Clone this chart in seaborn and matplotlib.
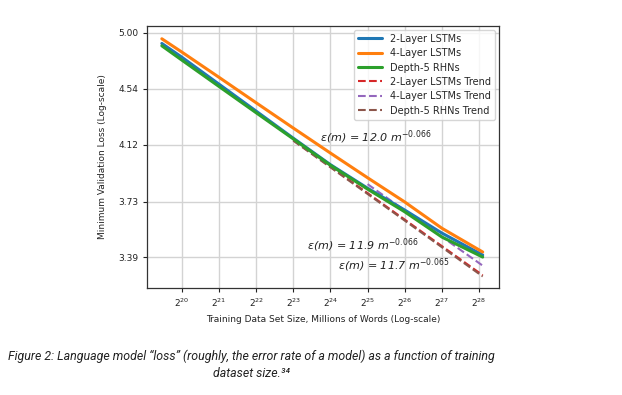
import numpy as np
import pandas as pd
import matplotlib
matplotlib.use("Agg")
import matplotlib.pyplot as plt
import seaborn as sns
from matplotlib.lines import Line2D

# ---- data ----
x_exp = [19.46, 20, 21, 22, 23, 24, 25, 26, 27, 28.1]          # log2 of training size
loss_2layer = [4.91, 4.794, 4.575, 4.366, 4.166, 3.979, 3.82, 3.678, 3.534, 3.402]
loss_4layer = [4.95, 4.837, 4.63, 4.43, 4.24, 4.06, 3.89, 3.73, 3.564, 3.42]
loss_rhn    = [4.89, 4.77, 4.557, 4.354, 4.161, 3.975, 3.814, 3.667, 3.51, 3.39]

trend_2layer_exp = [23.0, 28.1]
trend_2layer = [4.152, 3.285]
trend_4layer_exp = [25.0, 28.1]
trend_4layer = [3.847, 3.34]
trend_rhn_exp = [23.0, 28.1]
trend_rhn = [4.148, 3.278]

series_names = ["2-Layer LSTMs", "4-Layer LSTMs", "Depth-5 RHNs"]
trend_names = ["2-Layer LSTMs Trend", "4-Layer LSTMs Trend", "Depth-5 RHNs Trend"]

x_tick_exp = [20, 21, 22, 23, 24, 25, 26, 27, 28]
y_ticks = [5.00, 4.54, 4.12, 3.73, 3.39]

fit_labels = [r"ε(m) = 12.0 m$^{-0.066}$",
              r"ε(m) = 11.9 m$^{-0.066}$",
              r"ε(m) = 11.7 m$^{-0.065}$"]

caption = ("Figure 2: Language model \u201closs\u201d (roughly, the error rate of a model) as a function of training\n"
           "dataset size.\u00b3\u2074")

# ---- build tables ----
solid = pd.DataFrame({
    "x": np.power(2.0, x_exp * 3),
    "loss": loss_2layer + loss_4layer + loss_rhn,
    "series": [series_names[0]] * len(x_exp) + [series_names[1]] * len(x_exp) + [series_names[2]] * len(x_exp),
})
trend = pd.DataFrame({
    "x": np.power(2.0, trend_2layer_exp + trend_4layer_exp + trend_rhn_exp),
    "loss": trend_2layer + trend_4layer + trend_rhn,
    "series": [trend_names[0]] * 2 + [trend_names[1]] * 2 + [trend_names[2]] * 2,
})

sns.set_style("ticks")
plt.rcParams["mathtext.default"] = "it"
pal = sns.color_palette("tab10")

fig = plt.figure(figsize=(6.22, 3.95), dpi=100)
ax = fig.add_axes([0.2363, 0.2709, 0.566, 0.6633])

sns.lineplot(data=trend, x="x", y="loss", hue="series",
             palette={trend_names[0]: pal[3], trend_names[1]: pal[4], trend_names[2]: pal[5]},
             linestyle="--", linewidth=1.5, zorder=2, ax=ax, legend=False)
sns.lineplot(data=solid, x="x", y="loss", hue="series",
             palette={series_names[0]: pal[0], series_names[1]: pal[1], series_names[2]: pal[2]},
             linewidth=2.2, zorder=3, ax=ax, legend=False)

ax.set_xscale("log", base=2)
ax.set_yscale("log")
ax.set_xlim(2 ** 19.06, 2 ** 28.54)
ax.set_ylim(3.213, 5.061)
ax.set_xticks([2.0 ** e for e in x_tick_exp])
ax.set_xticklabels([r"$\mathdefault{2^{%d}}$" % e for e in x_tick_exp])
ax.set_yticks(y_ticks)
ax.set_yticklabels(["%.2f" % v for v in y_ticks])
ax.yaxis.set_minor_locator(matplotlib.ticker.NullLocator())
ax.xaxis.set_minor_locator(matplotlib.ticker.NullLocator())
ax.tick_params(labelsize=6.5, length=3, width=0.8, colors="#222222")
ax.grid(True, color="#d3d3d3", linewidth=1.0)
ax.set_axisbelow(True)
for s in ax.spines.values():
    s.set_color("#333333")
    s.set_linewidth(0.9)

ax.set_xlabel("Training Data Set Size, Millions of Words (Log-scale)", fontsize=6.5, color="#222222")
ax.set_ylabel("Minimum Validation Loss (Log-scale)", fontsize=6.5, color="#222222", labelpad=8)

# legend
handles = [Line2D([], [], color=pal[0], lw=2.2),
           Line2D([], [], color=pal[1], lw=2.2),
           Line2D([], [], color=pal[2], lw=2.2),
           Line2D([], [], color=pal[3], lw=1.5, ls="--"),
           Line2D([], [], color=pal[4], lw=1.5, ls="--"),
           Line2D([], [], color=pal[5], lw=1.5, ls="--")]
ax.legend(handles, series_names + trend_names, loc="upper right", fontsize=7,
          handlelength=2.5, frameon=True, borderaxespad=0.4, labelspacing=0.45)

# fit annotations
ax.text(0.491, 0.576, fit_labels[0], transform=ax.transAxes, fontsize=8, style="italic", va="center", color="#222222")
ax.text(0.4545, 0.164, fit_labels[1], transform=ax.transAxes, fontsize=8, style="italic", va="center", color="#222222")
ax.text(0.5426, 0.0878, fit_labels[2], transform=ax.transAxes, fontsize=8, style="italic", va="center", color="#222222")

fig.text(251 / 622, 1 - 365 / 395, caption, ha="center", va="center", fontsize=8.9,
         family=["Roboto", "DejaVu Sans"], style="italic", color="#222222", linespacing=1.45)

fig.savefig("out.png", dpi=100)
